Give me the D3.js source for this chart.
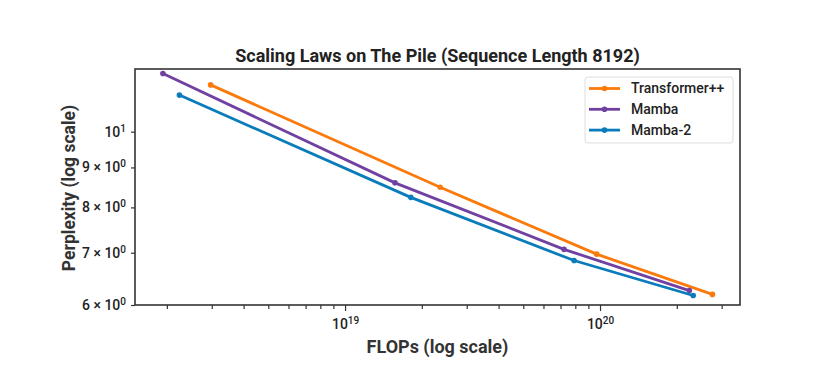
<!DOCTYPE html>
<html>
<head>
<meta charset="utf-8">
<script src="https://cdn.jsdelivr.net/npm/d3@7"></script>
<style>
  body { margin: 0; background: #fff; }
  svg { font-family: Roboto, "DejaVu Sans", sans-serif; }
</style>
</head>
<body>
<div id="chart"></div>
<script>
// series data
var seriesNames = ['Transformer++', 'Mamba', 'Mamba-2'];
var seriesColors = ['#fb7a0c', '#7041a1', '#0a7cbb'];
var transformerFlops = [2.97e18, 2.36e19, 9.7e19, 2.76e20];
var transformerPpl = [11.48, 8.49, 6.97, 6.19];
var mambaFlops = [1.93e18, 1.57e19, 7.22e19, 2.24e20];
var mambaPpl = [11.87, 8.60, 7.07, 6.26];
var mamba2Flops = [2.24e18, 1.81e19, 7.91e19, 2.32e20];
var mamba2Ppl = [11.14, 8.24, 6.84, 6.17];
var yTickValues = [6, 7, 8, 9, 10];
// [base, exponent] pairs for the y tick labels
var yTickLabels = [['6 × 10', '0'], ['7 × 10', '0'], ['8 × 10', '0'], ['9 × 10', '0'], ['10', '1']];

var W = 825, H = 367;
var margin = { top: 69, right: 85, bottom: 62, left: 135 };
var width = W - margin.left - margin.right;
var height = H - margin.top - margin.bottom;

var svg = d3.select('#chart').append('svg')
    .attr('width', W)
    .attr('height', H);
var g = svg.append('g')
    .attr('transform', 'translate(' + margin.left + ',' + margin.top + ')');

var x = d3.scaleLog().domain([1.5e18, 3.54e20]).range([0, width]);
var y = d3.scaleLog().domain([6, 12.03]).range([height, 0]);

// write "base^exp" into a tick text with a raised tspan
function supLabel(text, base, exp) {
    text.text(null)
        .attr('font-size', 14)
        .attr('font-weight', 500)
        .attr('font-family', 'Roboto, sans-serif')
        .attr('fill', '#222');
    text.append('tspan').text(base);
    text.append('tspan').attr('dy', '-0.5em').attr('font-size', 10).text(exp);
}

// x axis: majors labelled, minors as short ticks
var majors = [1e19, 1e20];
var minors = [];
[1e18, 1e19, 1e20].forEach(function (d) {
    for (var k = 2; k <= 9; k++) {
        var v = d * k;
        if (v >= x.domain()[0] && v <= x.domain()[1]) minors.push(v);
    }
});
var xAxisMinor = g.append('g')
    .attr('class', 'axis axis-x-minor')
    .attr('transform', 'translate(0,' + height + ')')
    .call(d3.axisBottom(x).tickValues(minors).tickSize(4).tickFormat(''));
var xAxis = g.append('g')
    .attr('class', 'axis axis-x')
    .attr('transform', 'translate(0,' + height + ')')
    .call(d3.axisBottom(x).tickValues(majors).tickSize(6).tickPadding(8).tickFormat(''));
xAxis.selectAll('.tick text').each(function (d) {
    supLabel(d3.select(this), '10', String(Math.round(Math.log10(d))));
});

var yAxis = g.append('g')
    .attr('class', 'axis axis-y')
    .call(d3.axisLeft(y).tickValues(yTickValues).tickSize(4).tickPadding(5).tickFormat(''));
yAxis.selectAll('.tick text').each(function (d, i) {
    supLabel(d3.select(this), yTickLabels[i][0], yTickLabels[i][1]);
});

[xAxisMinor, xAxis, yAxis].forEach(function (a) {
    a.attr('font-size', null).attr('font-family', null);
    a.select('.domain').remove();
    a.selectAll('.tick line').attr('stroke', '#333').attr('stroke-width', 1.2);
});

// frame
g.append('rect')
    .attr('width', width)
    .attr('height', height)
    .attr('fill', 'none')
    .attr('stroke', '#333')
    .attr('stroke-width', 1.6);

// lines
var series = [
    { name: seriesNames[0], color: seriesColors[0], xs: transformerFlops, ys: transformerPpl },
    { name: seriesNames[1], color: seriesColors[1], xs: mambaFlops, ys: mambaPpl },
    { name: seriesNames[2], color: seriesColors[2], xs: mamba2Flops, ys: mamba2Ppl }
];
var line = d3.line()
    .x(function (d) { return x(d[0]); })
    .y(function (d) { return y(d[1]); });

series.forEach(function (s) {
    var pts = s.xs.map(function (v, i) { return [v, s.ys[i]]; });
    g.append('path')
        .datum(pts)
        .attr('fill', 'none')
        .attr('stroke', s.color)
        .attr('stroke-width', 2.8)
        .attr('d', line);
    g.selectAll(null)
        .data(pts)
        .enter()
        .append('circle')
        .attr('cx', function (d) { return x(d[0]); })
        .attr('cy', function (d) { return y(d[1]); })
        .attr('r', 2.8)
        .attr('fill', s.color);
});

// legend
var legend = svg.append('g').attr('transform', 'translate(585,77)');
legend.append('rect')
    .attr('width', 148)
    .attr('height', 66)
    .attr('rx', 3)
    .attr('fill', '#fff')
    .attr('stroke', '#ddd');
series.forEach(function (s, i) {
    var row = legend.append('g').attr('transform', 'translate(0,' + (11.5 + i * 20.8) + ')');
    row.append('line')
        .attr('x1', 4).attr('x2', 35)
        .attr('stroke', s.color).attr('stroke-width', 2.8);
    row.append('circle').attr('cx', 19.5).attr('r', 2.8).attr('fill', s.color);
    row.append('text')
        .attr('x', 46).attr('dy', '0.35em')
        .attr('font-size', 14).attr('font-weight', 500).attr('fill', '#222')
        .text(s.name);
});

// title and axis labels
svg.append('text')
    .attr('x', margin.left + width / 2).attr('y', 62)
    .attr('text-anchor', 'middle')
    .attr('font-size', 18).attr('font-weight', 'bold').attr('fill', '#222')
    .text('Scaling Laws on The Pile (Sequence Length 8192)');
svg.append('text')
    .attr('x', margin.left + width / 2).attr('y', 353)
    .attr('text-anchor', 'middle')
    .attr('font-size', 18).attr('font-weight', 'bold').attr('fill', '#333')
    .text('FLOPs (log scale)');
svg.append('text')
    .attr('transform', 'translate(75,' + 188 + ') rotate(-90)')
    .attr('text-anchor', 'middle')
    .attr('font-size', 17.5).attr('font-weight', 'bold').attr('fill', '#333')
    .text('Perplexity (log scale)');
</script>
</body>
</html>
